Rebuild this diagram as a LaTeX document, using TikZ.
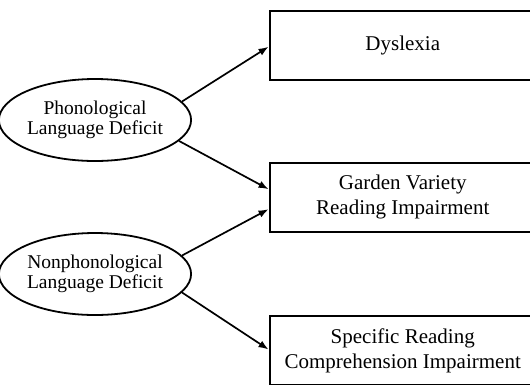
\documentclass[tikz,border=0pt]{standalone}
\usepackage{fontspec}
\setmainfont{Liberation Serif}
\usetikzlibrary{shapes.geometric,arrows.meta,calc}
\tikzset{
  outcome/.style={draw, line width=2.4pt, minimum width=266pt, minimum height=69pt,
    align=center, inner sep=0pt, font=\fontsize{21}{25}\selectfont},
  deficit/.style={ellipse, draw, line width=1.8pt, minimum width=174pt, minimum height=82pt,
    align=center, inner sep=0pt, font=\fontsize{19.5}{20.5}\selectfont},
  link/.style={line width=1.7pt, -{Latex[length=10pt,width=7.5pt]}}
}
\begin{document}
\begin{tikzpicture}[x=1pt,y=-1pt]
\useasboundingbox (0,0) rectangle (530,384);
% outcome boxes (right side runs past the page edge)
\node[outcome] (dys) at (402.75,45.25) {Dyslexia};
\node[outcome] (gv)  at (402.75,197.2) {Garden Variety\\Reading Impairment};
\node[outcome] (src) at (402.75,350.5) {Specific Reading\\Comprehension Impairment};
% latent deficits
\node[deficit] (ph)  at (95,120) {Phonological\\Language Deficit};
\node[deficit] (nph) at (95,274) {Nonphonological\\Language Deficit};
% paths
\draw[link] (ph.12)   -- ($(dys.west)+(0,1.5)$);
\draw[link] (ph.-14)  -- ($(gv.west)+(0,-8)$);
\draw[link] (nph.12)  -- ($(gv.west)+(0,12)$);
\draw[link] (nph.-12) -- ($(src.west)+(0,-1)$);
\end{tikzpicture}
\end{document}
